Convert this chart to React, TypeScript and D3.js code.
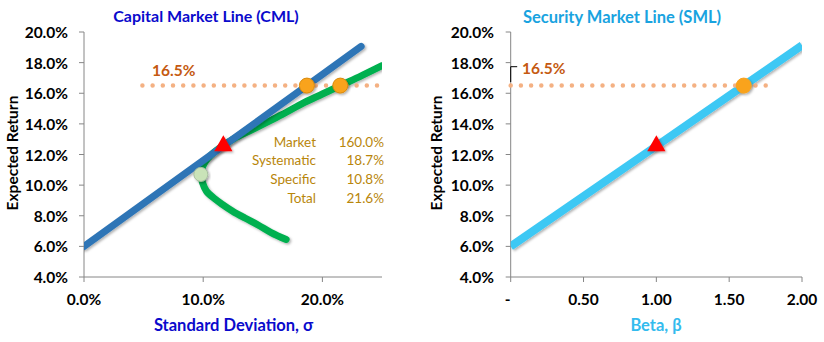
import React from "react";
import * as d3 from "d3";

// ---------- data ----------
const yTicks = [0.04, 0.06, 0.08, 0.1, 0.12, 0.14, 0.16, 0.18, 0.2];
const sigmaTicks = [0, 0.1, 0.2];
const betaTicks = [0, 0.5, 1, 1.5, 2];
const betaTickLabels = ["-", "0.50", "1.00", "1.50", "2.00"];

// Capital Market Line (sigma, return)
const cmlSigma = [0.0, 0.1169, 0.187, 0.2325];
const cmlReturn = [0.06, 0.1256, 0.165, 0.1906];

// Efficient frontier (sigma, return)
const frontierSigma = [0.1696, 0.157, 0.146, 0.135, 0.1247, 0.116, 0.109, 0.1027, 0.0995, 0.098, 0.0986, 0.1015, 0.107, 0.117, 0.126, 0.139, 0.152, 0.166, 0.185, 0.2, 0.215, 0.233, 0.25];
const frontierReturn = [0.0645, 0.069, 0.074, 0.0785, 0.083, 0.0875, 0.0915, 0.0961, 0.1015, 0.107, 0.11, 0.115, 0.12, 0.126, 0.1305, 0.1355, 0.1405, 0.146, 0.154, 0.1595, 0.165, 0.1715, 0.178];

// Security Market Line (beta, return)
const smlBeta = [0, 1, 1.6, 2];
const smlReturn = [0.06, 0.1256, 0.165, 0.19125];

// key points
const targetReturn = 0.165;
const marketSigma = 0.1169;
const marketReturn = 0.1256;
const minVarSigma = 0.098;
const minVarReturn = 0.107;
const cmlTargetSigma = 0.187;
const frontierTargetSigma = 0.215;
const marketBeta = 1.0;
const targetBeta = 1.6;
const targetLineSigma = [0.049, 0.25];
const targetLineBeta = [0, 1.77];

const statLabels = ["Market", "Systematic", "Specific", "Total"];
const statValues = ["160.0%", "18.7%", "10.8%", "21.6%"];

// ---------- styles ----------
const FONT = "Lato, 'DejaVu Sans', sans-serif";
const AXIS = "#868686";
const CML_BLUE = "#2E75B6";
const GREEN = "#00B050";
const SML_BLUE = "#3DC8F4";
const DOT = "#F4B183";
const LABEL_ORANGE = "#C55A11";
const GOLD = "#B8860B";
const ORANGE_FILL = "#F9A31B";
const ORANGE_STROKE = "#D98A0E";

const pct1 = d3.format(".1%");

export default function App() {
  const y = d3.scaleLinear().domain([0.04, 0.2]).range([277, 32]);
  const xL = d3.scaleLinear().domain([0, 0.25]).range([84, 382]);
  const xR = d3.scaleLinear().domain([0, 2]).range([510.7, 802]);

  const cmlPts: [number, number][] = cmlSigma.map((s, i) => [xL(s), y(cmlReturn[i])]);
  const frontierPts: [number, number][] = frontierSigma.map((s, i) => [xL(s), y(frontierReturn[i])]);
  const smlPts: [number, number][] = smlBeta.map((b, i) => [xR(b), y(smlReturn[i])]);

  const straight = d3.line();
  const smooth = d3.line().curve(d3.curveCatmullRom.alpha(0.5));
  const tri = d3.symbol().type(d3.symbolTriangle).size(145)();

  const yAxis = (x0: number, labelX: number) => (
    <g>
      <line x1={x0} x2={x0} y1={y(0.2)} y2={y(0.04)} stroke={AXIS} strokeWidth={1} />
      {yTicks.map((t) => (
        <g key={t}>
          <line x1={x0 - 5} x2={x0} y1={y(t)} y2={y(t)} stroke={AXIS} strokeWidth={1} />
          <text x={labelX} y={y(t)} textAnchor="end" dominantBaseline="central" fontFamily={FONT} fontWeight={700} fontSize={15.5} fill="#000">
            {pct1(t)}
          </text>
        </g>
      ))}
    </g>
  );

  return (
    <svg width={824} height={342} style={{ position: "absolute", left: 0, top: 0, background: "#fff" }}>
      <defs>
        <filter id="sh" x="-20%" y="-20%" width="140%" height="140%">
          <feDropShadow dx={1.5} dy={1.5} stdDeviation={1.2} floodColor="#000" floodOpacity={0.3} />
        </filter>
        <clipPath id="clipL">
          <rect x={84} y={0} width={298} height={277} />
        </clipPath>
        <clipPath id="clipR">
          <rect x={510.7} y={0} width={291.3} height={277} />
        </clipPath>
      </defs>

      {/* ---------- Left chart: CML ---------- */}
      <text x={206} y={15} textAnchor="middle" dominantBaseline="central" fontFamily={FONT} fontWeight={700} fontSize={16} fill="#0A0ACC">
        Capital Market Line (CML)
      </text>
      {yAxis(84, 68)}
      <line x1={xL(0)} x2={xL(0.25)} y1={277} y2={277} stroke={AXIS} strokeWidth={1} />
      {sigmaTicks.map((t) => (
        <g key={t}>
          <line x1={xL(t)} x2={xL(t)} y1={277} y2={282} stroke={AXIS} strokeWidth={1} />
          <text x={xL(t)} y={299} textAnchor="middle" dominantBaseline="central" fontFamily={FONT} fontWeight={700} fontSize={15.5} fill="#000">
            {pct1(t)}
          </text>
        </g>
      ))}
      <text x={233.5} y={325} textAnchor="middle" dominantBaseline="central" fontFamily={FONT} fontWeight={700} fontSize={16.5} fill="#0A0ACC">
        Standard Deviation, σ
      </text>
      <text transform={`translate(12,153) rotate(-90)`} textAnchor="middle" dominantBaseline="central" fontFamily={FONT} fontWeight={700} fontSize={15.5} fill="#000">
        Expected Return
      </text>

      <g clipPath="url(#clipL)">
        <path d={smooth(frontierPts) || ""} fill="none" stroke={GREEN} strokeWidth={7} strokeLinecap="round" filter="url(#sh)" />
        <path d={straight(cmlPts) || ""} fill="none" stroke={CML_BLUE} strokeWidth={7} strokeLinecap="round" filter="url(#sh)" />
      </g>
      <line x1={xL(targetLineSigma[0])} x2={xL(targetLineSigma[1])} y1={y(targetReturn)} y2={y(targetReturn)} stroke={DOT} strokeWidth={4.5} strokeLinecap="round" strokeDasharray="0 10.2" />
      <text x={152} y={69.5} dominantBaseline="central" fontFamily={FONT} fontWeight={700} fontSize={15.5} fill={LABEL_ORANGE}>
        {pct1(targetReturn)}
      </text>
      <circle cx={xL(minVarSigma)} cy={y(minVarReturn)} r={7} fill="#C9E3B8" stroke="#A8BFA0" strokeWidth={1} filter="url(#sh)" />
      <path d={tri || ""} transform={`translate(${xL(marketSigma)},${y(marketReturn)})`} fill="#FF0000" filter="url(#sh)" />
      <circle cx={xL(cmlTargetSigma)} cy={y(targetReturn)} r={7.5} fill={ORANGE_FILL} stroke={ORANGE_STROKE} strokeWidth={1} filter="url(#sh)" />
      <circle cx={xL(frontierTargetSigma)} cy={y(targetReturn)} r={7.5} fill={ORANGE_FILL} stroke={ORANGE_STROKE} strokeWidth={1} filter="url(#sh)" />

      {statLabels.map((l, i) => (
        <g key={l}>
          <text x={316} y={141.7 + i * 18.7} textAnchor="end" dominantBaseline="central" fontFamily={FONT} fontSize={13.5} fill={GOLD}>
            {l}
          </text>
          <text x={384} y={141.7 + i * 18.7} textAnchor="end" dominantBaseline="central" fontFamily={FONT} fontSize={13.5} fill={GOLD}>
            {statValues[i]}
          </text>
        </g>
      ))}

      {/* ---------- Right chart: SML ---------- */}
      <text x={622} y={17} textAnchor="middle" dominantBaseline="central" fontFamily={FONT} fontWeight={700} fontSize={16.5} fill="#19A3E0">
        Security Market Line (SML)
      </text>
      {yAxis(510.7, 494)}
      <line x1={xR(0)} x2={xR(2)} y1={277} y2={277} stroke={AXIS} strokeWidth={1} />
      {betaTicks.map((t, i) => (
        <g key={t}>
          <line x1={xR(t)} x2={xR(t)} y1={277} y2={282} stroke={AXIS} strokeWidth={1} />
          <text x={i === 0 ? xR(t) - 3 : xR(t)} y={299} textAnchor="middle" dominantBaseline="central" fontFamily={FONT} fontWeight={700} fontSize={15.5} fill="#000">
            {betaTickLabels[i]}
          </text>
        </g>
      ))}
      <text x={656} y={325} textAnchor="middle" dominantBaseline="central" fontFamily={FONT} fontWeight={700} fontSize={16.5} fill="#33BBEE">
        Beta, β
      </text>
      <text transform={`translate(436,153) rotate(-90)`} textAnchor="middle" dominantBaseline="central" fontFamily={FONT} fontWeight={700} fontSize={15.5} fill="#000">
        Expected Return
      </text>

      <g clipPath="url(#clipR)">
        <path d={straight(smlPts) || ""} fill="none" stroke={SML_BLUE} strokeWidth={8} strokeLinecap="butt" filter="url(#sh)" />
      </g>
      <line x1={xR(targetLineBeta[0])} x2={xR(targetLineBeta[1])} y1={y(targetReturn)} y2={y(targetReturn)} stroke={DOT} strokeWidth={4.5} strokeLinecap="round" strokeDasharray="0 10.2" />
      <path d={`M${xR(0) + 6.5},66.7H${xR(0)}V82`} fill="none" stroke="#000" strokeWidth={1} />
      <text x={522} y={67.7} dominantBaseline="central" fontFamily={FONT} fontWeight={700} fontSize={15.5} fill={LABEL_ORANGE}>
        {pct1(targetReturn)}
      </text>
      <path d={tri || ""} transform={`translate(${xR(marketBeta)},${y(marketReturn)})`} fill="#FF0000" filter="url(#sh)" />
      <circle cx={xR(targetBeta)} cy={y(targetReturn)} r={7.5} fill={ORANGE_FILL} stroke={ORANGE_FILL} strokeWidth={1} filter="url(#sh)" />
    </svg>
  );
}
